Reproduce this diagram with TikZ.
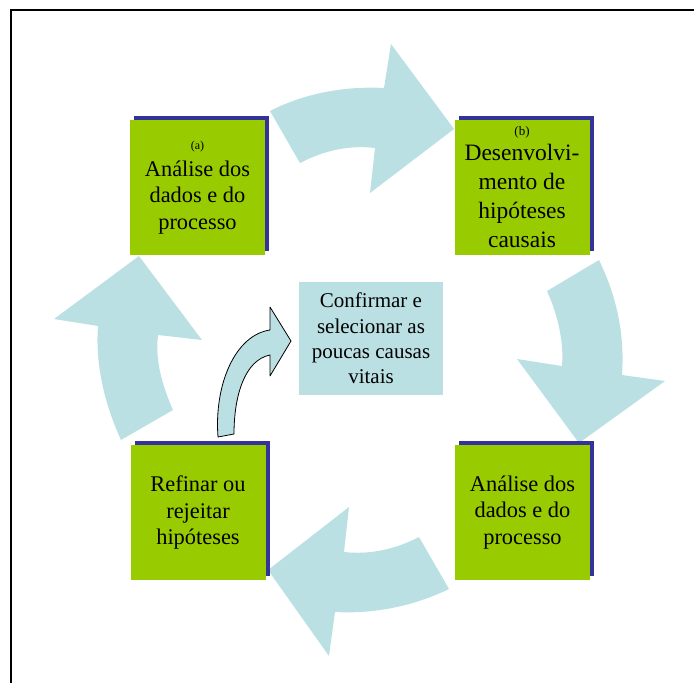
\documentclass[tikz,border=0pt]{standalone}
\usepackage{fontspec}
\setmainfont{Liberation Serif}
\usetikzlibrary{shadows}
\definecolor{stagegreen}{HTML}{99CC00}
\definecolor{shadowblue}{HTML}{333399}
\definecolor{paleblue}{HTML}{BBE0E3}
\begin{document}
\begin{tikzpicture}[x=1pt,y=-1pt,
  stagebox/.style={rectangle, fill=stagegreen, minimum width=135pt, minimum height=135pt,
    inner sep=0pt, align=center, font=\fontsize{22.4}{26.5}\selectfont,
    drop shadow={shadow xshift=4pt, shadow yshift=4.5pt, fill=shadowblue, opacity=1}},
  centerbox/.style={rectangle, fill=paleblue, minimum width=144pt, minimum height=113pt,
    inner sep=0pt, align=center, font=\fontsize{21}{25.3}\selectfont},
  blockarrow/.style={fill=paleblue, draw=none},
  smallarrow/.style={fill=paleblue, draw=black, line width=0.8pt, line join=round},
  frameline/.style={line width=1.5pt}
]
\useasboundingbox (0,0) rectangle (694,683);

% frame
\draw[frameline] (11,683) -- (11,10) -- (694,10);

% cycle arrows
\fill[blockarrow] (270,111) .. controls (305,93) and (345,86) .. (384,88) -- (391,44) -- (454,129)
  -- (370,193) -- (375,148) .. controls (350,145) and (325,150) .. (300,163) -- cycle;
\fill[blockarrow] (599,260) -- (547,291) .. controls (557,313) and (564,340) .. (562,366)
  -- (517,359) -- (579,443) -- (665,381) -- (622,375) .. controls (625,333) and (616,295) .. (599,260) -- cycle;
\fill[blockarrow] (419,537) -- (449,589) .. controls (412,607) and (372,614) .. (335,612)
  -- (329,656) -- (268,570) -- (349,507) -- (344,552) .. controls (370,555) and (396,549) .. (419,537) -- cycle;
\fill[blockarrow] (121,440) -- (173,410) .. controls (162,385) and (155,360) .. (158,335)
  -- (202,340) -- (139,256) -- (54,319) -- (98,326) .. controls (95,365) and (105,405) .. (121,440) -- cycle;

% stages
\node[stagebox] (analiseA) at (197.5,187.5) {{\fontsize{12}{12}\selectfont (a)}\\An\'alise dos\\dados e do\\processo};
\node[stagebox, font=\fontsize{23.5}{29}\selectfont] (desenv) at (522,187.5) {{\fontsize{13}{13}\selectfont (b)}\\[-4pt]Desenvolvi-\\mento de\\hip\'oteses\\causais};
\node[stagebox] (analiseB) at (522.5,512.5) {An\'alise dos\\dados e do\\processo};
\node[stagebox] (refinar) at (198,512.5) {Refinar ou\\rejeitar\\hip\'oteses};
\node[centerbox] (confirmar) at (371,338.5) {Confirmar e\\selecionar as\\poucas causas\\vitais};

% small curved arrow towards the centre
\draw[smallarrow] (218,437) .. controls (214,385) and (235,335) .. (270,330) -- (270,307) -- (291,341)
  -- (270,376) -- (270,355) .. controls (245,360) and (234,395) .. (234,434) -- cycle;
\end{tikzpicture}
\end{document}
